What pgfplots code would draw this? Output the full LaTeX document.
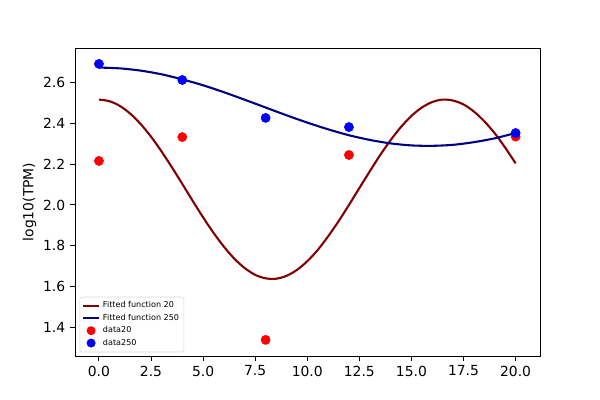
\documentclass[border=0pt]{standalone}
\usepackage{pgfplots}
\pgfplotsset{compat=1.18}
\usepackage{fontspec}
\setmainfont{DejaVu Sans}
\definecolor{mplred}{HTML}{FF0000}
\definecolor{mplblue}{HTML}{0000FF}
\definecolor{darkred}{HTML}{800000}
\definecolor{navy}{HTML}{000080}
\begin{document}
\begin{tikzpicture}
\path[use as bounding box] (0,0) rectangle (432pt,288pt);
\begin{axis}[
  at={(54pt,31.68pt)}, anchor=south west,
  scale only axis, width=334.8pt, height=221.76pt,
  xmin=-1.15, xmax=21.17, ymin=1.259, ymax=2.770,
  xtick={0,2.5,...,20}, ytick={1.4,1.6,...,2.61},
  xticklabel style={/pgf/number format/.cd,fixed,fixed zerofill,precision=1},
  yticklabel style={/pgf/number format/.cd,fixed,fixed zerofill,precision=1},
  /pgf/number format/assume math mode=true,
  tick align=outside, tick pos=left, major tick length=3.5pt,
  every tick/.style={black, line width=0.7pt},
  axis line style={line width=0.7pt},
  tick label style={font=\fontsize{10}{12}\selectfont},
  ylabel={log10(TPM)}, ylabel style={font=\fontsize{10}{12}\selectfont, yshift=-2pt},
  legend style={at={(0.01,0.012)}, anchor=south west, font=\fontsize{5.8}{7}\selectfont,
    draw=black!15, rounded corners=1.5pt, inner sep=1.5pt, row sep=-1pt},
  legend cell align=left,
  legend image code/.code={\draw[#1] (0pt,0pt) -- (11.6pt,0pt);},
]
\addplot[darkred, line width=1.5pt, smooth] coordinates {
(0,2.517)(0.5,2.509)(1,2.486)(1.5,2.448)(2,2.397)(2.5,2.335)(3,2.263)(3.5,2.185)
(4,2.103)(4.5,2.020)(5,1.939)(5.5,1.863)(6,1.795)(6.5,1.736)(7,1.690)(7.5,1.657)
(8,1.640)(8.5,1.638)(9,1.652)(9.5,1.681)(10,1.724)(10.5,1.779)(11,1.846)(11.5,1.920)
(12,2.000)(12.5,2.083)(13,2.165)(13.5,2.245)(14,2.318)(14.5,2.383)(15,2.437)(15.5,2.478)
(16,2.505)(16.5,2.517)(17,2.512)(17.5,2.493)(18,2.458)(18.5,2.410)(19,2.351)(19.5,2.281)(20,2.204)};
\addlegendentry{Fitted function 20}
\addplot[navy, line width=1.5pt, smooth] coordinates {
(0,2.674)(1,2.670)(2,2.659)(3,2.641)(4,2.616)(5,2.587)(6,2.553)(7,2.516)(8,2.478)
(9,2.440)(10,2.404)(11,2.371)(12,2.342)(13,2.319)(14,2.302)(15,2.292)(16,2.290)
(17,2.295)(18,2.308)(19,2.327)(20,2.353)};
\addlegendentry{Fitted function 250}
\addplot[only marks, mark=*, mark size=3.3pt, mplred, mark options={draw=mplred, fill=mplred},
  legend image code/.code={\fill[mplred] (5.8pt,0pt) circle (3pt);}] coordinates {
(0,2.216)(4,2.333)(8,1.338)(12,2.245)(20,2.335)};
\addlegendentry{data20}
\addplot[only marks, mark=*, mark size=3.3pt, mplblue, mark options={draw=mplblue, fill=mplblue},
  legend image code/.code={\fill[mplblue] (5.8pt,0pt) circle (3pt);}] coordinates {
(0,2.692)(4,2.613)(8,2.427)(12,2.382)(20,2.353)};
\addlegendentry{data250}
\end{axis}
\end{tikzpicture}
\end{document}
